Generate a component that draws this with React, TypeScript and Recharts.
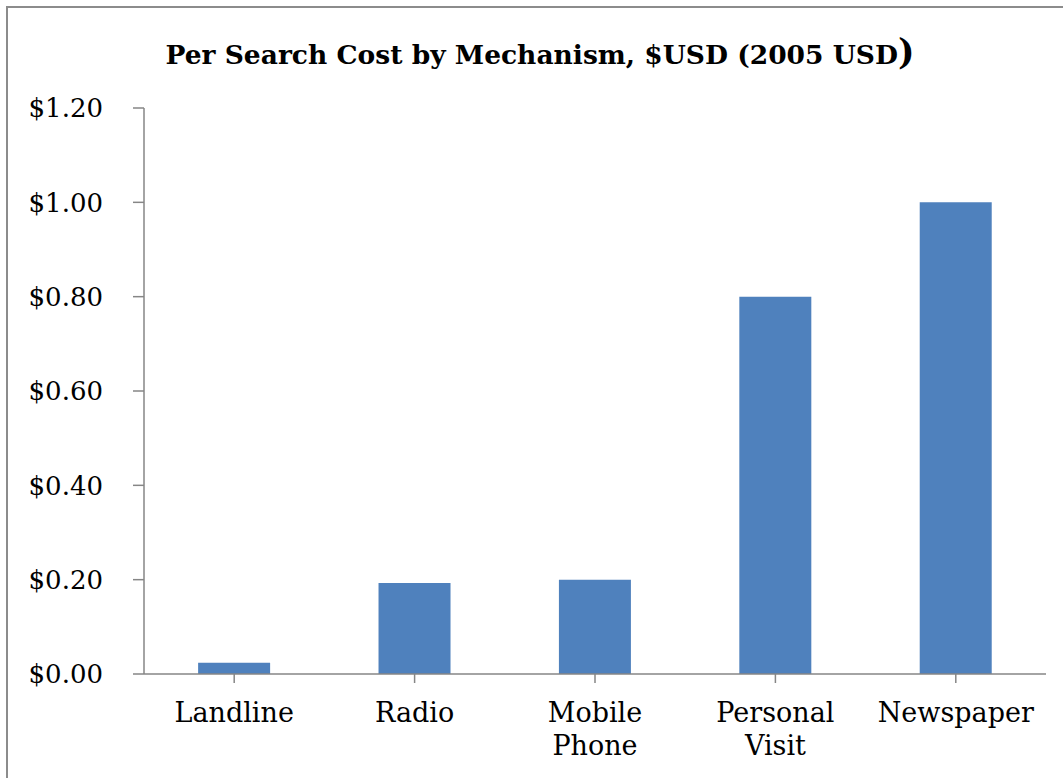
import React from 'react';
import { BarChart, Bar, XAxis, YAxis } from 'recharts';

const mechanisms = ['Landline', 'Radio', 'Mobile Phone', 'Personal Visit', 'Newspaper'];
const costs = [0.024, 0.193, 0.2, 0.8, 1.0];
const yTicks = [0, 0.2, 0.4, 0.6, 0.8, 1.0, 1.2];

const data = mechanisms.map((name, i) => ({ name, cost: costs[i] }));

const FONT = '"DejaVu Serif", serif';
const AXIS = '#868686';

function CategoryTick(props: any) {
  const { x, y, payload } = props;
  const words = String(payload.value).split(' ');
  return (
    <text x={x} y={y} textAnchor="middle" fontFamily={FONT} fontSize={27} fill="#000">
      {words.map((w: string, i: number) => (
        <tspan key={i} x={x} dy={i === 0 ? 37 : 33}>
          {w}
        </tspan>
      ))}
    </text>
  );
}

export default function App() {
  return (
    <div
      style={{
        position: 'absolute',
        left: 0,
        top: 0,
        width: 1063,
        height: 778,
        overflow: 'hidden',
        background: '#fff',
      }}
    >
      <div
        style={{
          position: 'absolute',
          left: 6,
          top: 6,
          width: 1100,
          height: 820,
          border: '2px solid #8c8c8c',
        }}
      />
      <div
        style={{
          position: 'absolute',
          left: 0,
          top: 31,
          width: 1080,
          textAlign: 'center',
          fontFamily: FONT,
          fontWeight: 'bold',
          fontSize: 26.5,
          color: '#000',
        }}
      >
        Per Search Cost by Mechanism, $USD (2005 USD<span style={{ fontSize: 35 }}>)</span>
      </div>
      <div style={{ position: 'absolute', left: 0, top: 0 }}>
        <BarChart
          width={1063}
          height={778}
          data={data}
          margin={{ top: 108, right: 17, bottom: 14, left: 0 }}
          barCategoryGap="30%"
        >
          <XAxis
            dataKey="name"
            height={90}
            tick={<CategoryTick />}
            tickSize={9}
            axisLine={{ stroke: AXIS, strokeWidth: 1.5 }}
            tickLine={{ stroke: AXIS, strokeWidth: 1.5 }}
            interval={0}
          />
          <YAxis
            width={144}
            domain={[0, 1.2]}
            ticks={yTicks}
            tickFormatter={(v: number) => `$${v.toFixed(2)}`}
            tickSize={11}
            tickMargin={30}
            axisLine={{ stroke: AXIS, strokeWidth: 1.5 }}
            tickLine={{ stroke: AXIS, strokeWidth: 1.5 }}
            tick={{ fontFamily: FONT, fontSize: 26, fill: '#000' }}
          />
          <Bar dataKey="cost" fill="#4F81BD" isAnimationActive={false} />
        </BarChart>
      </div>
    </div>
  );
}
